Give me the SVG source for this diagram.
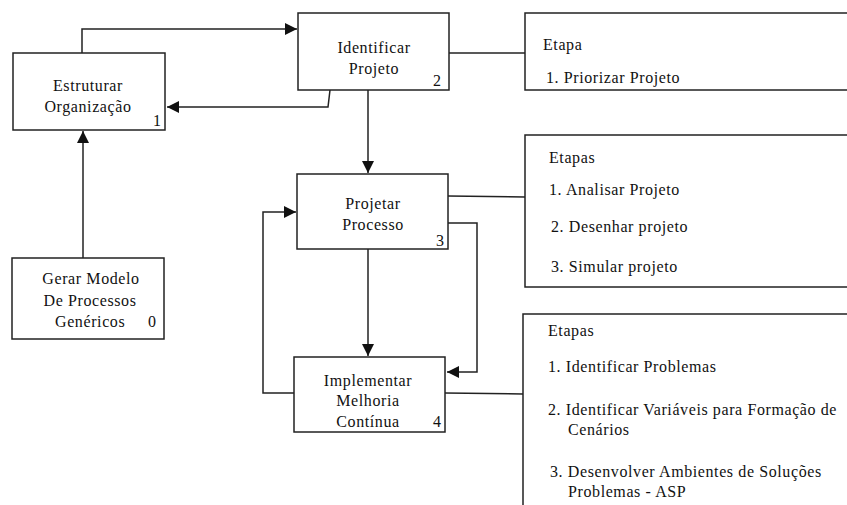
<svg xmlns="http://www.w3.org/2000/svg" width="847" height="505" viewBox="0 0 847 505">
  <style>
    .box { fill: #fff; stroke: #222; stroke-width: 1.5; }
    .ln { fill: none; stroke: #222; stroke-width: 1.5; }
    text { font-family: "Liberation Serif", "Times New Roman", serif; font-size: 16px; letter-spacing: 0.6px; fill: #111; }
    .c { text-anchor: middle; }
  </style>
  <defs>
    <marker id="ah" viewBox="0 0 10 10" refX="10" refY="5" markerWidth="12" markerHeight="12" markerUnits="userSpaceOnUse" orient="auto">
      <path d="M0,0 L10,5 L0,10 z" fill="#111"/>
    </marker>
  </defs>

  <rect width="847" height="505" fill="#fff"/>

  <g id="connectors">
    <!-- 1 -> 2 -->
    <polyline class="ln" points="82,53 82,29 297,29" marker-end="url(#ah)"/>
    <!-- 2 -> 1 -->
    <polyline class="ln" points="330,90 328,107 167,107" marker-end="url(#ah)"/>
    <!-- 0 -> 1 -->
    <polyline class="ln" points="83,258 83,131" marker-end="url(#ah)"/>
    <!-- 2 -> 3 -->
    <polyline class="ln" points="368,90 368,173" marker-end="url(#ah)"/>
    <!-- 3 -> 4 -->
    <polyline class="ln" points="368,249 368,356" marker-end="url(#ah)"/>
    <!-- 3 -> 4 (side) -->
    <polyline class="ln" points="445,223 477,223 477,372 447,372" marker-end="url(#ah)"/>
    <!-- 4 -> 3 (feedback) -->
    <polyline class="ln" points="294,393 263,393 263,212 296,212" marker-end="url(#ah)"/>
    <!-- links to step lists -->
    <line class="ln" x1="449" y1="53" x2="525" y2="53"/>
    <line class="ln" x1="448" y1="196" x2="525" y2="197"/>
    <line class="ln" x1="445" y1="393" x2="523" y2="394"/>
  </g>

  <g id="node0">
    <rect class="box" x="12" y="258" width="152" height="81"/>
    <text class="c" x="91" y="284">Gerar Modelo</text>
    <text class="c" x="90" y="306">De Processos</text>
    <text x="55" y="327">Genéricos</text>
    <text x="148" y="327">0</text>
  </g>

  <g id="node1">
    <rect class="box" x="13" y="53" width="152" height="77"/>
    <text class="c" x="88" y="91">Estruturar</text>
    <text class="c" x="88" y="112">Organização</text>
    <text x="153" y="126">1</text>
  </g>

  <g id="node2">
    <rect class="box" x="298" y="13" width="151" height="77"/>
    <text class="c" x="374" y="53">Identificar</text>
    <text class="c" x="374" y="74">Projeto</text>
    <text x="433" y="86">2</text>
  </g>

  <g id="node3">
    <rect class="box" x="297" y="174" width="151" height="75"/>
    <text class="c" x="373" y="209">Projetar</text>
    <text class="c" x="373" y="230">Processo</text>
    <text x="436" y="246">3</text>
  </g>

  <g id="node4">
    <rect class="box" x="294" y="357" width="151" height="75"/>
    <text class="c" x="368" y="386">Implementar</text>
    <text class="c" x="368" y="406">Melhoria</text>
    <text class="c" x="368" y="427">Contínua</text>
    <text x="433" y="427">4</text>
  </g>

  <g id="steps2">
    <rect class="box" x="525" y="13" width="330" height="77"/>
    <text x="543" y="50">Etapa</text>
    <text x="546" y="83">1. Priorizar Projeto</text>
  </g>

  <g id="steps3">
    <rect class="box" x="525" y="135" width="330" height="152"/>
    <text x="549" y="163">Etapas</text>
    <text x="549" y="195">1. Analisar Projeto</text>
    <text x="551" y="232">2. Desenhar projeto</text>
    <text x="551" y="272">3. Simular projeto</text>
  </g>

  <g id="steps4">
    <rect class="box" x="523" y="314" width="332" height="200"/>
    <text x="548" y="336">Etapas</text>
    <text x="548" y="372">1. Identificar Problemas</text>
    <text x="548" y="415">2. Identificar Variáveis para Formação de</text>
    <text x="568" y="435">Cenários</text>
    <text x="550" y="477">3. Desenvolver Ambientes de Soluções</text>
    <text x="568" y="497">Problemas - ASP</text>
  </g>
</svg>
